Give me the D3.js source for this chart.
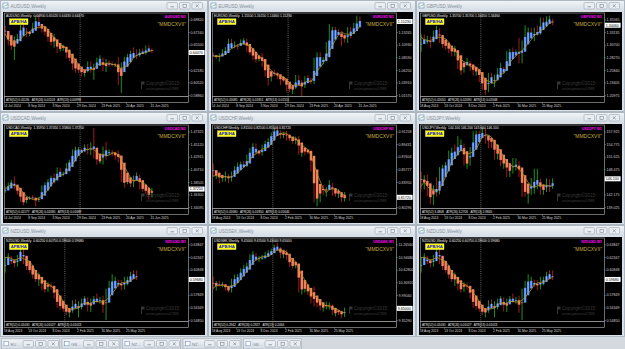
<!DOCTYPE html>
<html><head><meta charset="utf-8">
<script src="https://cdn.jsdelivr.net/npm/d3@7"></script>
<style>html,body{margin:0;padding:0;background:#cfd5db;overflow:hidden}svg{display:block}</style>
</head><body>
<svg id="c" width="625" height="349"></svg>
<script>
// ---------- time axis labels ----------
const DATES_A_LABELS = ["14 Jul 2024","8 Sep 2024","3 Nov 2024","29 Dec 2024","23 Feb 2025","20 Apr 2025","15 Jun 2025"];
const DATES_A_INDEX = [0,8,16,24,32,40,48];
const SEP_A = 25;
const DATES_B_LABELS = ["18 Aug 2024","13 Oct 2024","8 Dec 2024","2 Feb 2025","30 Mar 2025","25 May 2025"];
const DATES_B_INDEX = [0,8,16,24,32,40];
const SEP_B = 20;

// ---------- AUDUSD ----------
const AUDUSD_open0 = 0.6770;
const AUDUSD_close = [0.6690,0.6545,0.6515,0.6575,0.6680,0.6795,0.6765,0.6670,0.6710,0.6805,0.6905,0.6795,0.6745,0.6710,0.6600,0.6580,0.6595,0.6465,0.6505,0.6510,0.6380,0.6365,0.6255,0.6225,0.6215,0.6165,0.6195,0.6315,0.6215,0.6275,0.6355,0.6365,0.6210,0.6315,0.6295,0.6280,0.6300,0.6040,0.6285,0.6370,0.6400,0.6450,0.6410,0.6405,0.6485,0.6435,0.6505,0.6490,0.6447];
const AUDUSD_high = [0.6800,0.6700,0.6620,0.6660,0.6690,0.6810,0.6825,0.6770,0.6730,0.6840,0.6935,0.6942,0.6800,0.6760,0.6720,0.6630,0.6688,0.6600,0.6550,0.6550,0.6530,0.6430,0.6370,0.6290,0.6260,0.6250,0.6220,0.6330,0.6330,0.6300,0.6380,0.6410,0.6380,0.6360,0.6345,0.6330,0.6310,0.6390,0.6315,0.6390,0.6430,0.6470,0.6515,0.6490,0.6495,0.6500,0.6540,0.6550,0.6502];
const AUDUSD_low = [0.6670,0.6540,0.6480,0.6348,0.6560,0.6670,0.6720,0.6650,0.6660,0.6700,0.6790,0.6760,0.6710,0.6675,0.6590,0.6540,0.6510,0.6440,0.6460,0.6470,0.6370,0.6335,0.6220,0.6180,0.6180,0.6130,0.6130,0.6185,0.6180,0.6088,0.6250,0.6330,0.6200,0.6190,0.6260,0.6260,0.6255,0.6020,0.5914,0.6270,0.6340,0.6380,0.6390,0.6360,0.6390,0.6420,0.6420,0.6460,0.6443];
const AUDUSD_ticks = [0.68820,0.67160,0.65500,0.63840,0.62180,0.60520,0.58860];
const AUDUSD_range = [0.5874,0.6968];
const AUDUSD_atr = "ATR(52) 0.01136   ATR(26) 0.01103   ATR(13) 0.00998";

// ---------- EURUSD ----------
const EURUSD_open0 = 1.0908;
const EURUSD_close = [1.0882,1.0856,1.0910,1.0917,1.1027,1.1192,1.1048,1.1083,1.1075,1.1163,1.1165,1.0975,1.0935,1.0865,1.0797,1.0834,1.0718,1.0540,1.0418,1.0578,1.0568,1.0502,1.0430,1.0427,1.0307,1.0244,1.0272,1.0494,1.0362,1.0329,1.0491,1.0459,1.0375,1.0834,1.0880,1.0815,1.0830,1.0960,1.1360,1.1395,1.1365,1.1297,1.1252,1.1164,1.1365,1.1347,1.1395,1.1550,1.1523];
const EURUSD_high = [1.0948,1.0900,1.0930,1.1008,1.1048,1.1202,1.1202,1.1155,1.1110,1.1190,1.1214,1.1210,1.0990,1.0955,1.0870,1.0905,1.0937,1.0720,1.0610,1.0600,1.0630,1.0590,1.0530,1.0460,1.0440,1.0330,1.0350,1.0530,1.0530,1.0440,1.0510,1.0530,1.0480,1.0850,1.0950,1.0955,1.0860,1.1145,1.1475,1.1425,1.1420,1.1380,1.1330,1.1285,1.1420,1.1420,1.1495,1.1631,1.1615];
const EURUSD_low = [1.0865,1.0830,1.0777,1.0880,1.0950,1.1020,1.1040,1.1025,1.1000,1.1070,1.1140,1.0960,1.0910,1.0810,1.0760,1.0780,1.0680,1.0500,1.0333,1.0410,1.0510,1.0450,1.0345,1.0400,1.0225,1.0215,1.0178,1.0270,1.0340,1.0141,1.0290,1.0420,1.0360,1.0360,1.0770,1.0800,1.0730,1.0780,1.0880,1.1260,1.1280,1.1265,1.1065,1.1130,1.1125,1.1210,1.1350,1.1370,1.1446];
const EURUSD_ticks = [1.15600,1.13265,1.10930,1.08590,1.06250,1.03910,1.01570];
const EURUSD_range = [1.0141,1.1681];
const EURUSD_atr = "ATR(52) 0.01685   ATR(26) 0.01851   ATR(13) 0.01551";

// ---------- GBPUSD ----------
const GBPUSD_open0 = 1.2944;
const GBPUSD_close = [1.3212,1.3125,1.3127,1.3124,1.3322,1.3377,1.3121,1.3066,1.3049,1.2960,1.2918,1.2920,1.2610,1.2530,1.2735,1.2745,1.2617,1.2570,1.2570,1.2420,1.2207,1.2170,1.2480,1.2390,1.2405,1.2580,1.2630,1.2575,1.2915,1.2935,1.2915,1.2945,1.2875,1.3085,1.3290,1.3310,1.3270,1.3300,1.3280,1.3540,1.3460,1.3565,1.3570,1.3446];
const GBPUSD_high = [1.3266,1.3265,1.3240,1.3230,1.3343,1.3434,1.3390,1.3135,1.3105,1.3060,1.3040,1.3048,1.2945,1.2670,1.2750,1.2810,1.2750,1.2690,1.2605,1.2610,1.2470,1.2320,1.2525,1.2525,1.2490,1.2620,1.2715,1.2640,1.2945,1.2990,1.3015,1.2975,1.3205,1.3150,1.3445,1.3400,1.3400,1.3400,1.3445,1.3595,1.3595,1.3616,1.3632,1.3560];
const GBPUSD_low = [1.2935,1.3085,1.3090,1.3000,1.3115,1.3285,1.3105,1.3010,1.2975,1.2905,1.2845,1.2845,1.2600,1.2487,1.2530,1.2655,1.2560,1.2475,1.2475,1.2350,1.2200,1.2100,1.2160,1.2380,1.2250,1.2385,1.2560,1.2560,1.2570,1.2860,1.2860,1.2875,1.2710,1.2710,1.3060,1.3230,1.3240,1.3140,1.3240,1.3265,1.3405,1.3410,1.3470,1.3445];
const GBPUSD_ticks = [1.35565,1.33135,1.30700,1.28270,1.25840,1.23405,1.20975];
const GBPUSD_range = [1.2081,1.3682];
const GBPUSD_atr = "ATR(52) 0.02050   ATR(26) 0.02090   ATR(13) 0.02008";

// ---------- USDCAD ----------
const USDCAD_open0 = 1.3670;
const USDCAD_close = [1.3720,1.3825,1.3870,1.3735,1.3675,1.3510,1.3495,1.3570,1.3585,1.3575,1.3520,1.3575,1.3760,1.3805,1.3890,1.3940,1.3910,1.4085,1.3975,1.4010,1.4165,1.4235,1.4365,1.4415,1.4415,1.4410,1.4490,1.4345,1.4525,1.4305,1.4180,1.4220,1.4460,1.4365,1.4375,1.4335,1.4310,1.4235,1.3870,1.3840,1.3855,1.3815,1.3935,1.3960,1.3735,1.3720,1.3680,1.3595,1.3725];
const USDCAD_high = [1.3770,1.3840,1.3890,1.3946,1.3745,1.3685,1.3530,1.3590,1.3600,1.3620,1.3590,1.3590,1.3790,1.3840,1.3900,1.3960,1.4000,1.4105,1.4100,1.4030,1.4180,1.4240,1.4420,1.4465,1.4460,1.4440,1.4510,1.4515,1.4545,1.4793,1.4340,1.4270,1.4470,1.4545,1.4420,1.4410,1.4380,1.4410,1.4295,1.3885,1.3890,1.3870,1.3960,1.4015,1.3980,1.3780,1.3740,1.3690,1.3745];
const USDCAD_low = [1.3660,1.3710,1.3760,1.3720,1.3630,1.3500,1.3440,1.3480,1.3535,1.3530,1.3420,1.3500,1.3560,1.3760,1.3780,1.3875,1.3820,1.3870,1.3950,1.3950,1.3990,1.4125,1.4200,1.4360,1.4370,1.4365,1.4380,1.4330,1.4320,1.4260,1.4150,1.4170,1.4155,1.4240,1.4320,1.4300,1.4240,1.4190,1.3850,1.3750,1.3810,1.3760,1.3760,1.3910,1.3720,1.3680,1.3640,1.3540,1.3580];
const USDCAD_ticks = [1.47325,1.45120,1.42915,1.40710,1.38505,1.36300,1.34095];
const USDCAD_range = [1.3394,1.4846];
const USDCAD_atr = "ATR(52) 0.02177   ATR(26) 0.02085   ATR(13) 0.01689";

// ---------- USDCHF ----------
const USDCHF_open0 = 0.8650;
const USDCHF_close = [0.8480,0.8500,0.8435,0.8470,0.8480,0.8430,0.8530,0.8570,0.8645,0.8665,0.8625,0.8760,0.8875,0.8945,0.8810,0.8785,0.8925,0.8945,0.9020,0.9100,0.9165,0.9125,0.9040,0.9110,0.9040,0.9000,0.8975,0.9030,0.8810,0.8845,0.8825,0.8810,0.8605,0.8150,0.8180,0.8285,0.8270,0.8315,0.8375,0.8235,0.8225,0.8225,0.8110,0.8172];
const USDCHF_high = [0.8665,0.8545,0.8535,0.8500,0.8545,0.8510,0.8545,0.8625,0.8675,0.8690,0.8700,0.8790,0.8885,0.8955,0.8955,0.8855,0.8935,0.8990,0.9030,0.9110,0.9180,0.9200,0.9140,0.9115,0.9135,0.9090,0.9030,0.9050,0.9060,0.8860,0.8890,0.8860,0.8860,0.8650,0.8245,0.8340,0.8350,0.8320,0.8420,0.8380,0.8265,0.8290,0.8250,0.8250];
const USDCHF_low = [0.8470,0.8435,0.8375,0.8400,0.8400,0.8375,0.8400,0.8530,0.8570,0.8600,0.8600,0.8610,0.8750,0.8840,0.8790,0.8780,0.8775,0.8910,0.8895,0.9000,0.9060,0.9080,0.9020,0.9030,0.8995,0.8985,0.8945,0.8940,0.8790,0.8760,0.8780,0.8800,0.8545,0.8100,0.8040,0.8100,0.8200,0.8180,0.8300,0.8190,0.8180,0.8160,0.8100,0.8110];
const USDCHF_ticks = [0.91258,0.89431,0.87604,0.85777,0.83950,0.82123,0.80296];
const USDCHF_range = [0.8017,0.9220];
const USDCHF_atr = "ATR(52) 0.01680   ATR(26) 0.01850   ATR(13) 0.01646";

// ---------- USDJPY ----------
const USDJPY_open0 = 147.60;
const USDJPY_close = [144.35,146.20,142.30,140.85,143.85,142.20,148.70,149.15,149.55,152.30,152.95,152.65,154.30,154.75,149.75,150.00,153.65,156.40,157.85,157.30,157.75,156.30,156.00,155.20,151.40,152.30,149.25,150.60,148.00,148.65,149.30,149.85,146.95,143.50,142.20,143.65,144.95,145.35,145.70,142.55,143.95,144.85,144.10,146.10];
const USDJPY_high = [147.85,147.00,147.20,143.05,144.50,146.50,149.00,149.55,150.30,153.15,153.90,154.70,156.75,155.90,154.90,151.25,154.00,157.95,158.10,158.10,158.88,158.85,156.75,156.40,155.90,154.80,152.40,151.25,150.20,149.20,151.30,151.20,150.50,148.30,144.00,143.90,146.30,148.60,148.60,146.15,144.70,146.20,146.00,146.20];
const USDJPY_low = [143.45,143.45,141.75,139.80,139.58,141.65,142.20,147.30,148.80,148.90,151.30,151.30,152.30,153.30,149.45,148.60,149.35,152.70,156.55,156.00,156.20,154.90,153.70,153.80,150.95,150.95,149.25,148.60,146.50,146.55,147.40,148.20,146.55,141.60,141.60,139.89,142.10,142.35,143.50,142.10,142.10,142.80,142.80,143.60];
const USDJPY_ticks = [157.925,154.775,151.625,148.475,145.325,142.175,139.025];
const USDJPY_range = [138.80,159.55];
const USDJPY_atr = "ATR(52) 3.4808   ATR(26) 3.2706   ATR(13) 2.9845";

// ---------- NZDUSD ----------
const NZDUSD_open0 = 0.6055;
const NZDUSD_close = [0.6225,0.6245,0.6180,0.6150,0.6245,0.6345,0.6160,0.6100,0.6065,0.5985,0.5955,0.5980,0.5865,0.5850,0.5920,0.5865,0.5755,0.5650,0.5645,0.5595,0.5565,0.5590,0.5700,0.5640,0.5650,0.5730,0.5745,0.5590,0.5720,0.5745,0.5720,0.5725,0.5600,0.5810,0.5920,0.5950,0.5955,0.5905,0.5890,0.5965,0.5975,0.6030,0.6025,0.5968];
const NZDUSD_high = [0.6235,0.6280,0.6250,0.6210,0.6260,0.6370,0.6379,0.6170,0.6110,0.6080,0.6010,0.6050,0.5990,0.5880,0.5935,0.5930,0.5885,0.5770,0.5700,0.5660,0.5635,0.5630,0.5720,0.5730,0.5710,0.5740,0.5770,0.5755,0.5740,0.5770,0.5800,0.5760,0.5775,0.5860,0.5950,0.6030,0.6000,0.5965,0.5960,0.6000,0.6000,0.6060,0.6080,0.6075];
const NZDUSD_low = [0.6050,0.6170,0.6150,0.6110,0.6120,0.6230,0.6150,0.6080,0.6050,0.5980,0.5940,0.5890,0.5840,0.5810,0.5820,0.5850,0.5740,0.5630,0.5610,0.5585,0.5540,0.5516,0.5570,0.5640,0.5517,0.5610,0.5715,0.5585,0.5580,0.5690,0.5690,0.5680,0.5570,0.5485,0.5790,0.5870,0.5900,0.5880,0.5840,0.5850,0.5900,0.5960,0.5990,0.5960];
const NZDUSD_ticks = [0.63847,0.62347,0.60848,0.59348,0.57849,0.56349,0.54850];
const NZDUSD_range = [0.5473,0.6462];
const NZDUSD_atr = "ATR(52) 0.01030   ATR(26) 0.01027   ATR(13) 0.01013";

// ---------- USDSEK ----------
const USDSEK_open0 = 10.43;
const USDSEK_close = [10.16,10.28,10.24,10.25,10.12,10.09,10.37,10.38,10.48,10.62,10.67,10.77,10.98,11.03,10.90,10.92,10.94,11.02,11.06,11.14,11.24,11.19,10.94,11.09,10.90,10.72,10.70,10.78,10.09,10.14,10.14,10.02,9.87,9.78,9.77,9.64,9.69,9.70,9.72,9.50,9.56,9.55,9.45,9.65];
const USDSEK_high = [10.45,10.34,10.35,10.32,10.27,10.16,10.40,10.50,10.52,10.66,10.75,10.80,11.02,11.10,11.05,10.98,11.00,11.08,11.12,11.16,11.26,11.30,11.20,11.12,11.13,10.95,10.82,10.82,10.79,10.28,10.25,10.18,10.13,10.20,9.95,9.88,9.78,9.82,9.80,9.75,9.60,9.62,9.60,9.67];
const USDSEK_low = [10.13,10.10,10.20,10.18,10.10,10.05,10.05,10.30,10.37,10.45,10.55,10.60,10.72,10.92,10.85,10.82,10.88,10.90,10.98,11.02,11.10,11.12,10.92,10.92,10.88,10.70,10.65,10.66,10.05,10.00,10.05,9.98,9.78,9.70,9.68,9.60,9.57,9.62,9.62,9.48,9.45,9.48,9.40,9.43];
const USDSEK_ticks = [11.26560,10.94680,10.62800,10.30920,9.99040,9.67160,9.35290];
const USDSEK_range = [9.33,11.43];
const USDSEK_atr = "ATR(52) 0.2942   ATR(26) 0.2927   ATR(13) 0.2464";

const MINIMIZED = ["EU...","GB...","NZ...","NZ...","GB..."];

// ---------- table built from the arrays ----------
const A = {labels:DATES_A_LABELS, idx:DATES_A_INDEX, sep:SEP_A};
const B = {labels:DATES_B_LABELS, idx:DATES_B_INDEX, sep:SEP_B};
const PANELS = [
 {sym:"AUDUSD",o0:AUDUSD_open0,c:AUDUSD_close,h:AUDUSD_high,l:AUDUSD_low,ticks:AUDUSD_ticks,range:AUDUSD_range,atr:AUDUSD_atr,t:A,dg:5},
 {sym:"EURUSD",o0:EURUSD_open0,c:EURUSD_close,h:EURUSD_high,l:EURUSD_low,ticks:EURUSD_ticks,range:EURUSD_range,atr:EURUSD_atr,t:A,dg:5},
 {sym:"GBPUSD",o0:GBPUSD_open0,c:GBPUSD_close,h:GBPUSD_high,l:GBPUSD_low,ticks:GBPUSD_ticks,range:GBPUSD_range,atr:GBPUSD_atr,t:B,dg:5},
 {sym:"USDCAD",o0:USDCAD_open0,c:USDCAD_close,h:USDCAD_high,l:USDCAD_low,ticks:USDCAD_ticks,range:USDCAD_range,atr:USDCAD_atr,t:A,dg:5},
 {sym:"USDCHF",o0:USDCHF_open0,c:USDCHF_close,h:USDCHF_high,l:USDCHF_low,ticks:USDCHF_ticks,range:USDCHF_range,atr:USDCHF_atr,t:B,dg:5},
 {sym:"USDJPY",o0:USDJPY_open0,c:USDJPY_close,h:USDJPY_high,l:USDJPY_low,ticks:USDJPY_ticks,range:USDJPY_range,atr:USDJPY_atr,t:B,dg:3},
 {sym:"NZDUSD",o0:NZDUSD_open0,c:NZDUSD_close,h:NZDUSD_high,l:NZDUSD_low,ticks:NZDUSD_ticks,range:NZDUSD_range,atr:NZDUSD_atr,t:B,dg:5},
 {sym:"USDSEK",o0:USDSEK_open0,c:USDSEK_close,h:USDSEK_high,l:USDSEK_low,ticks:USDSEK_ticks,range:USDSEK_range,atr:USDSEK_atr,t:B,dg:5},
 {sym:"NZDUSD",o0:NZDUSD_open0,c:NZDUSD_close,h:NZDUSD_high,l:NZDUSD_low,ticks:NZDUSD_ticks,range:NZDUSD_range,atr:NZDUSD_atr,t:B,dg:5}
];

// ---------- layout ----------
const COLX = [0,208,416], COLW = [208,208,209];
const ROWY = [0,112,225], ROWH = [112,113,112];
const FONT = "'Liberation Sans', Arial, sans-serif";
const PL = 4.5, PR = 188.5, PT = 13, PB = 96.5, AT = 96.5, AB = 102.5;
const BAR_STEP = 3.056, BAR0 = 5.2, BODY_W = 2.5;

const svg = d3.select("#c");
const defs = svg.append("defs");
const tg = defs.append("linearGradient").attr("id","tg").attr("x1",0).attr("y1",0).attr("x2",0).attr("y2",1);
tg.append("stop").attr("offset","0%").attr("stop-color","#f0f3f6");
tg.append("stop").attr("offset","100%").attr("stop-color","#d5dce4");
const bg = defs.append("linearGradient").attr("id","bg").attr("x1",0).attr("y1",0).attr("x2",1).attr("y2",0);
bg.append("stop").attr("offset","0%").attr("stop-color","#3d6fd6");
bg.append("stop").attr("offset","50%").attr("stop-color","#7fb0ff");
bg.append("stop").attr("offset","100%").attr("stop-color","#3d6fd6");

function titleButtons(g, x, y){
  [0,1,2].forEach(k=>{
    const bx = x + k*12.5;
    g.append("rect").attr("x",bx).attr("y",y).attr("width",10.5).attr("height",6.5).attr("rx",1)
      .attr("fill","#e9eef3").attr("stroke","#9aa5b1").attr("stroke-width",0.6);
    if(k===0) g.append("line").attr("x1",bx+3.5).attr("x2",bx+7).attr("y1",y+4.3).attr("y2",y+4.3).attr("stroke","#7d8894").attr("stroke-width",0.8);
    if(k===1) g.append("rect").attr("x",bx+3.5).attr("y",y+1.8).attr("width",3.5).attr("height",3).attr("fill","none").attr("stroke","#7d8894").attr("stroke-width",0.6);
    if(k===2){
      g.append("path").attr("d",`M${bx+3.7},${y+1.8}L${bx+6.8},${y+4.8}M${bx+6.8},${y+1.8}L${bx+3.7},${y+4.8}`).attr("stroke","#7d8894").attr("stroke-width",0.7);
    }
  });
}

PANELS.forEach((p,k)=>{
  const col = k%3, row = Math.floor(k/3);
  const W = COLW[col], H = ROWH[row];
  const g = svg.append("g").attr("transform",`translate(${COLX[col]},${ROWY[row]})`);
  // window frame
  g.append("rect").attr("x",0.5).attr("y",0.5).attr("width",W-1).attr("height",H-1)
    .attr("fill","#d9e0e7").attr("stroke","#a4afba").attr("stroke-width",0.8);
  g.append("rect").attr("x",1).attr("y",1).attr("width",W-2).attr("height",10.5).attr("fill","url(#tg)");
  // icon
  g.append("rect").attr("x",3).attr("y",3).attr("width",5).attr("height",5).attr("fill","#fff").attr("stroke","#5b86bf").attr("stroke-width",0.6);
  g.append("path").attr("d","M3.8,7L5.3,5.2L6.3,6.2L7.4,4").attr("fill","none").attr("stroke","#3a9a3a").attr("stroke-width",0.5);
  g.append("text").attr("x",10.5).attr("y",8.3).attr("font-family",FONT).attr("font-size",4.6)
    .attr("fill","#8391a0").text(`${p.sym},Weekly`);
  titleButtons(g, W-41, 2.5);
  // black chart area
  g.append("rect").attr("x",3).attr("y",12).attr("width",W-6).attr("height",H-14).attr("fill","#000");

  const x = d3.scaleLinear().domain([0,1]).range([BAR0, BAR0+BAR_STEP]);
  const y = d3.scaleLinear().domain(p.range).range([PB-0.5, PT]);
  const fmt = d3.format(`.${p.dg}f`);

  const cid = `clip${k}`;
  defs.append("clipPath").attr("id",cid).append("rect").attr("x",PL).attr("y",PT).attr("width",PR-PL).attr("height",PB-PT);

  // Heikin-Ashi bars from OHLC
  const n = Math.min(p.c.length,p.h.length,p.l.length);
  const bars = [];
  let pho=null, phc=null;
  for(let i=0;i<n;i++){
    const o = i===0 ? p.o0 : p.c[i-1], c = p.c[i];
    const h = Math.max(p.h[i],o,c), l = Math.min(p.l[i],o,c);
    const hc = (o+h+l+c)/4;
    const ho = i===0 ? (o+c)/2 : (pho+phc)/2;
    pho=ho; phc=hc;
    bars.push({i,o,h,l,c,ho,hc});
  }
  // moving average of closes (5 periods)
  const maPts = bars.map((b,i)=>{
    const s = bars.slice(Math.max(0,i-4),i+1);
    return [i, d3.mean(s,d=>d.c)];
  });
  const last = bars[bars.length-1];

  const plot = g.append("g").attr("clip-path",`url(#${cid})`);
  // year separator
  g.append("line").attr("x1",x(p.t.sep)-1.5).attr("x2",x(p.t.sep)-1.5).attr("y1",PT).attr("y2",AB)
    .attr("stroke","#bdbdbd").attr("stroke-width",0.6).attr("stroke-dasharray","0.9,1.3");
  // wicks
  plot.selectAll("line.w").data(bars).join("line").attr("class","w")
    .attr("x1",d=>x(d.i)).attr("x2",d=>x(d.i)).attr("y1",d=>y(d.h)).attr("y2",d=>y(d.l))
    .attr("stroke",d=>d.c>=d.o?"#20a020":"#b81c1c").attr("stroke-width",0.9);
  // bodies
  plot.selectAll("rect.b").data(bars).join("rect").attr("class","b")
    .attr("x",d=>x(d.i)-BODY_W/2).attr("width",BODY_W)
    .attr("y",d=>Math.min(y(d.ho),y(d.hc)))
    .attr("height",d=>Math.max(0.7,Math.abs(y(d.ho)-y(d.hc))))
    .attr("fill",d=>d.hc>=d.ho?"url(#bg)":"#f5805e");
  // MA line
  plot.append("path").datum(maPts)
    .attr("d",d3.line().x(d=>x(d[0])).y(d=>y(d[1])))
    .attr("fill","none").attr("stroke","#b39a1c").attr("stroke-width",0.75);

  // frames
  g.append("rect").attr("x",PL).attr("y",PT).attr("width",PR-PL).attr("height",PB-PT)
    .attr("fill","none").attr("stroke","#9c9c9c").attr("stroke-width",0.7);
  g.append("rect").attr("x",PL).attr("y",AT).attr("width",PR-PL).attr("height",AB-AT)
    .attr("fill","none").attr("stroke","#9c9c9c").attr("stroke-width",0.7);
  g.append("text").attr("x",6).attr("y",100.9).attr("font-family",FONT).attr("font-size",3.1)
    .attr("fill","#e8e8e8").attr("xml:space","preserve").text(p.atr);

  // price axis (labels hidden behind the current-price marker are skipped, as in the terminal)
  const visTicks = p.ticks.filter(t=>Math.abs(y(t)-y(last.c))>5.2);
  const ya = g.append("g").attr("transform",`translate(${PR},0)`)
    .call(d3.axisRight(y).tickValues(visTicks).tickFormat(fmt).tickSize(1.3).tickPadding(0.8));
  ya.select(".domain").remove();
  ya.selectAll("line").attr("stroke","#9c9c9c").attr("stroke-width",0.6);
  ya.selectAll("text").attr("font-family",FONT).attr("font-size",3.6).attr("fill","#cfcfcf");

  // time axis
  const xa = g.append("g").attr("transform",`translate(0,${AB})`)
    .call(d3.axisBottom(x).tickValues(p.t.idx).tickFormat((d,i)=>p.t.labels[i]).tickSize(1.3).tickPadding(0.9));
  xa.select(".domain").remove();
  xa.selectAll("line").attr("stroke","#9c9c9c").attr("stroke-width",0.6).attr("transform","translate(-1.5,0)");
  xa.selectAll("text").attr("font-family",FONT).attr("font-size",3.3).attr("fill","#d6d6d6")
    .attr("text-anchor","start").attr("x",-2);

  // current price marker
  g.append("rect").attr("x",PR+0.3).attr("y",y(last.c)-2.5).attr("width",15.8).attr("height",5)
    .attr("fill","#ffffff");
  g.append("text").attr("x",PR+1.3).attr("y",y(last.c)+1.3).attr("font-family",FONT).attr("font-size",3.6)
    .attr("fill","#000").text(fmt(last.c));

  // header
  g.append("text").attr("x",6).attr("y",17.3).attr("font-family",FONT).attr("font-size",3.3)
    .attr("fill","#f0f0f0").attr("xml:space","preserve")
    .text(`${p.sym},Weekly  ${fmt(last.o)} ${fmt(last.h)} ${fmt(last.l)} ${fmt(last.c)}`);
  g.append("rect").attr("x",9.5).attr("y",18.8).attr("width",18.5).attr("height",5.8)
    .attr("fill","#ffff00").attr("stroke","#f6f6b0").attr("stroke-width",0.4);
  g.append("text").attr("x",18.75).attr("y",23.2).attr("text-anchor","middle").attr("font-family",FONT)
    .attr("font-size",4.2).attr("font-weight","bold").attr("fill","#1414d8").text("APB/HA");
  g.append("text").attr("x",186).attr("y",17.8).attr("text-anchor","end").attr("font-family",FONT)
    .attr("font-size",3.5).attr("font-weight","bold").attr("fill","#ff00ff").text(`${p.sym} W1`);
  g.append("text").attr("x",186).attr("y",25.6).attr("text-anchor","end").attr("font-family",FONT)
    .attr("font-size",5).attr("fill","#c4ae3e").text('"MMDCXVII"');
  // copyright
  g.append("path").attr("d","M141,81.5h3.5v3h-2.5v4.5h-1z").attr("fill","#353535");
  g.append("text").attr("x",146).attr("y",84.5).attr("font-family",FONT).attr("font-size",4.6)
    .attr("fill","#3b3b3b").text("Copyright©2015");
  g.append("text").attr("x",146).attr("y",89.6).attr("font-family",FONT).attr("font-size",4.4)
    .attr("fill","#3b3b3b").text("anonymous0788");
});

// minimized windows bar
svg.append("rect").attr("x",0).attr("y",337).attr("width",625).attr("height",12).attr("fill","#d3d9df");
MINIMIZED.forEach((t,i)=>{
  const g = svg.append("g").attr("transform",`translate(${1+i*60.5},338.3)`);
  g.append("rect").attr("x",0.5).attr("y",0.5).attr("width",58).attr("height",10.2)
    .attr("fill","url(#tg)").attr("stroke","#9fa9b4").attr("stroke-width",0.6);
  g.append("rect").attr("x",3).attr("y",3).attr("width",4.5).attr("height",4.5).attr("fill","#fff").attr("stroke","#5b86bf").attr("stroke-width",0.5);
  g.append("text").attr("x",9.5).attr("y",7.3).attr("font-family",FONT).attr("font-size",4.3).attr("fill","#7d8a98").text(t);
  titleButtons(g, 22, 2.2);
});
</script>
</body></html>
